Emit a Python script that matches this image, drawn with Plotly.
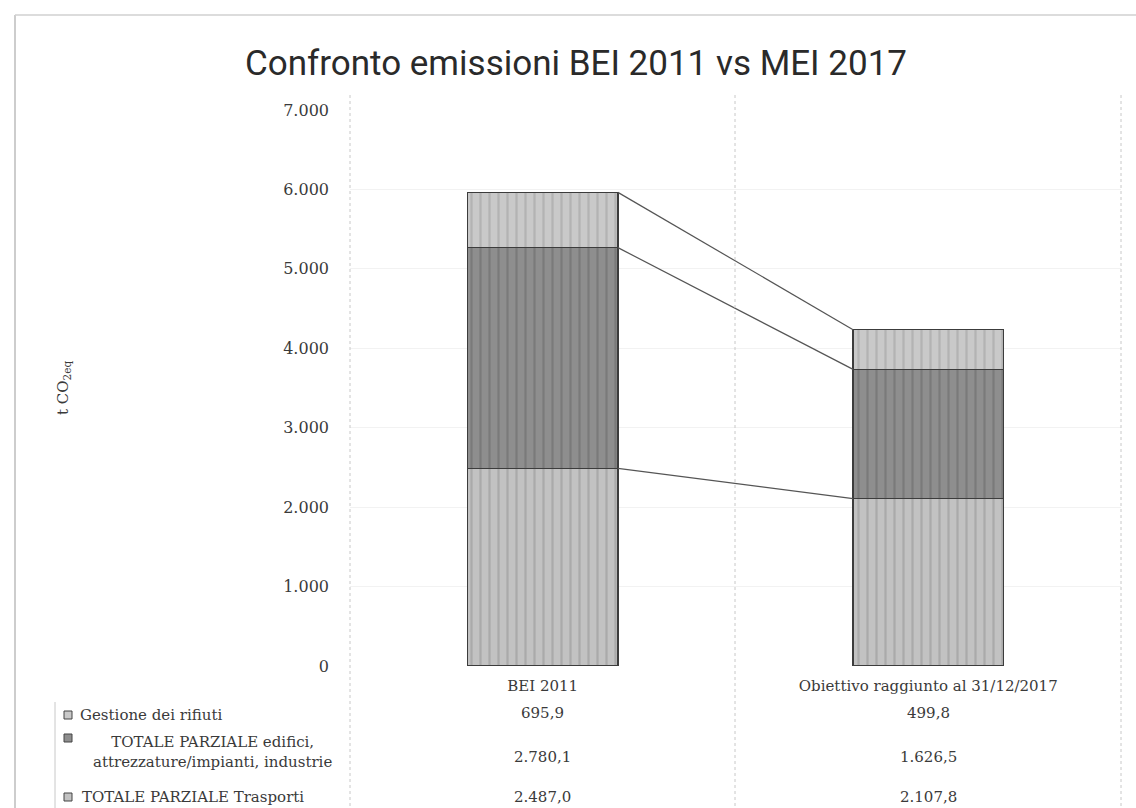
import plotly.graph_objects as go

# ---- data ----
categories = ["BEI 2011", "Obiettivo raggiunto al 31/12/2017"]
series_names = ["Gestione dei rifiuti",
                "TOTALE PARZIALE edifici,<br>attrezzature/impianti, industrie",
                "TOTALE PARZIALE Trasporti"]
rifiuti = [695.9, 499.8]
edifici = [2780.1, 1626.5]
trasporti = [2487.0, 2107.8]
y_ticks = [0, 1000, 2000, 3000, 4000, 5000, 6000, 7000]
y_tick_labels = ["0", "1.000", "2.000", "3.000", "4.000", "5.000", "6.000", "7.000"]

# ---- geometry helpers (pixels -> paper) ----
W, H = 1136, 808
L, R, T, B = 350, 1121, 110, 666
def px(x):
    return (x - L) / (R - L)
def py(y):
    return (B - y) / (B - T)

xpos = list(range(len(categories)))
bar_w = 0.39
SERIF = "DejaVu Serif, Liberation Serif, serif"
TXT = "#3a3a3a"

fig = go.Figure()

stack = [
    ("TOTALE PARZIALE Trasporti", trasporti, "#c2c2c2", "#aaaaaa"),
    ("TOTALE PARZIALE edifici, attrezzature/impianti, industrie", edifici, "#8e8e8e", "#7a7a7a"),
    ("Gestione dei rifiuti", rifiuti, "#c9c9c9", "#b3b3b3"),
]
for name, vals, col, fg in stack:
    fig.add_trace(go.Bar(
        x=xpos, y=vals, name=name, width=bar_w,
        marker=dict(color=col,
                    line=dict(color="#3c3c3c", width=1.2),
                    pattern=dict(shape="|", fgcolor=fg, bgcolor=col, size=9,
                                 solidity=0.25, fillmode="replace")),
        showlegend=False,
    ))

# connector (series) lines between stacked boundaries
cum = []
run = [0.0] * len(categories)
for _, vals, _, _ in stack:
    run = [a + b for a, b in zip(run, vals)]
    cum.append(list(run))
for level in cum:
    fig.add_trace(go.Scatter(
        x=[xpos[0] + bar_w / 2, xpos[1] - bar_w / 2], y=level,
        mode="lines", line=dict(color="#555555", width=1.2),
        showlegend=False, hoverinfo="skip"))

annotations = []
shapes = []

# data table values
table_rows = [rifiuti, edifici, trasporti]
row_y = [713, 757, 797]
for vals, yy in zip(table_rows, row_y):
    for xi, v in zip(xpos, vals):
        s = f"{v:,.1f}".replace(",", "X").replace(".", ",").replace("X", ".")
        annotations.append(dict(x=xi, xref="x", y=py(yy), yref="paper", text=s,
                                showarrow=False, font=dict(family=SERIF, size=15, color=TXT),
                                xanchor="center", yanchor="middle"))

# table row labels
annotations.append(dict(x=px(78), xref="paper", y=py(715), yref="paper", text=series_names[0],
                        showarrow=False, align="left",
                        font=dict(family=SERIF, size=15, color=TXT),
                        xanchor="left", yanchor="middle"))
annotations.append(dict(x=px(212), xref="paper", y=py(752), yref="paper", text=series_names[1],
                        showarrow=False, align="center",
                        font=dict(family=SERIF, size=15, color=TXT),
                        xanchor="center", yanchor="middle"))
annotations.append(dict(x=px(80), xref="paper", y=py(797), yref="paper", text=series_names[2],
                        showarrow=False, align="left",
                        font=dict(family=SERIF, size=15, color=TXT),
                        xanchor="left", yanchor="middle"))
# legend keys
key_cols = ["#c9c9c9", "#8e8e8e", "#c2c2c2"]
key_y = [715, 738, 797]
for c, yy in zip(key_cols, key_y):
    shapes.append(dict(type="rect", xref="paper", yref="paper",
                       x0=px(64), x1=px(72), y0=py(yy + 4), y1=py(yy - 4),
                       fillcolor=c, line=dict(color="#444444", width=1)))

# y axis title
annotations.append(dict(x=px(63), xref="paper", y=py(388), yref="paper",
                        text="t CO<sub>2eq</sub>", textangle=-90, showarrow=False,
                        font=dict(family=SERIF, size=15, color=TXT),
                        xanchor="center", yanchor="middle"))

# frame / table lines
grid_col = "#c8c8c8"
for xx in [350, 735, 1121]:
    shapes.append(dict(type="line", xref="paper", yref="paper",
                       x0=px(xx), x1=px(xx), y0=py(95), y1=py(808),
                       line=dict(color=grid_col, width=1, dash="dot")))
shapes.append(dict(type="line", xref="paper", yref="paper",
                   x0=px(55), x1=px(55), y0=py(702), y1=py(808),
                   line=dict(color=grid_col, width=1)))
shapes.append(dict(type="line", xref="paper", yref="paper",
                   x0=px(15), x1=px(15), y0=py(15), y1=py(808),
                   line=dict(color="#bdbdbd", width=1.5)))
shapes.append(dict(type="line", xref="paper", yref="paper",
                   x0=px(15), x1=px(1136), y0=py(15), y1=py(15),
                   line=dict(color="#d0d0d0", width=1.5)))

fig.update_layout(
    width=W, height=H,
    margin=dict(l=L, r=W - R, t=T, b=H - B, pad=0),
    paper_bgcolor="white", plot_bgcolor="white",
    barmode="stack",
    separators=",.",
    title=dict(text="Confronto emissioni BEI 2011 vs MEI 2017",
               x=576 / W, xanchor="center", y=1 - 63 / H, yanchor="middle",
               yref="container", xref="container",
               font=dict(family="Roboto, sans-serif", size=35, color="#2a2a2a")),
    xaxis=dict(range=[-0.5, 1.5], tickvals=xpos, ticktext=categories,
               showgrid=False, zeroline=False, showline=False, ticks="",
               tickfont=dict(family=SERIF, size=15, color=TXT), ticklabelstandoff=9),
    yaxis=dict(range=[0, 7000], tickvals=y_ticks, ticktext=y_tick_labels,
               showgrid=True, gridcolor="#f2f2f2", zeroline=False, showline=False,
               ticks="", ticklabelstandoff=20,
               tickfont=dict(family=SERIF, size=16, color=TXT)),
    annotations=annotations,
    shapes=shapes,
)

fig.write_html("out.html", config={"displayModeBar": False},
               post_script="document.body.style.margin='0';")
